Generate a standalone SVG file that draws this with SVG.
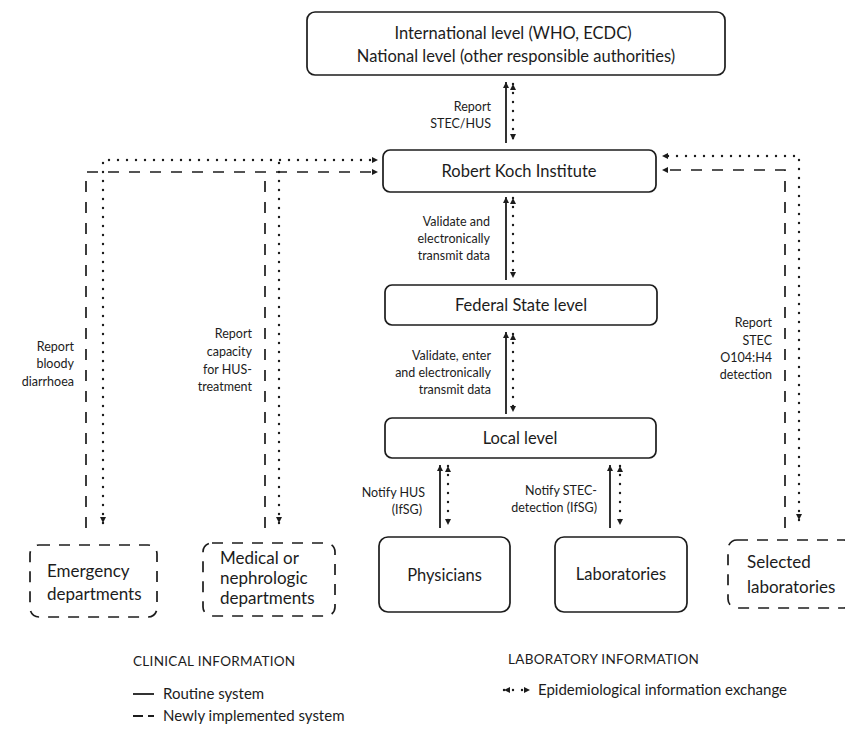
<svg xmlns="http://www.w3.org/2000/svg" width="845" height="733" viewBox="0 0 845 733">
<style>
  text { font-family: Lato, "Liberation Sans", sans-serif; fill: #1c1c1c; }
  .box { fill: none; stroke: #1c1c1c; stroke-width: 1.7; }
  .dbox { fill: none; stroke: #1c1c1c; stroke-width: 1.7; stroke-dasharray: 11 9; }
  .bt { font-size: 17px; }
  .ct { font-size: 16.5px; text-anchor: middle; }
  .lb { font-size: 12.5px; text-anchor: end; }
  .lg { font-size: 15px; }
  .hd { font-size: 13.5px; letter-spacing: 0.3px; }
  .solid { fill: none; stroke: #1c1c1c; stroke-width: 1.8; }
  .dash { fill: none; stroke: #1c1c1c; stroke-width: 1.7; stroke-dasharray: 11 10; }
  .dot { fill: none; stroke: #1c1c1c; stroke-width: 2.4; stroke-linecap: round; stroke-dasharray: 0 9; }
</style>
<defs>
  <marker id="ah" viewBox="0 0 10 10" refX="10" refY="5" markerUnits="userSpaceOnUse" markerWidth="7" markerHeight="6" orient="auto-start-reverse">
    <path d="M0,0 L10,5 L0,10 z" fill="#1c1c1c"/>
  </marker>
</defs>
<rect width="845" height="733" fill="#ffffff"/>

<g id="international">
  <rect class="box" x="307" y="12" width="418" height="63" rx="8"/>
  <text class="ct" x="513" y="39">International level (WHO, ECDC)</text>
  <text class="ct" x="516" y="62">National level (other responsible authorities)</text>
</g>
<g id="rki">
  <rect class="box" x="383" y="150" width="273" height="42" rx="7"/>
  <text class="ct" x="519" y="177">Robert Koch Institute</text>
</g>
<g id="federal">
  <rect class="box" x="385" y="285" width="272" height="40" rx="7"/>
  <text class="ct" x="521" y="311">Federal State level</text>
</g>
<g id="local">
  <rect class="box" x="385" y="418" width="271" height="40" rx="7"/>
  <text class="ct" x="520" y="444">Local level</text>
</g>
<g id="emergency">
  <rect class="dbox" x="30" y="545" width="127" height="72" rx="9"/>
  <text class="bt" x="47" y="577">Emergency</text>
  <text class="bt" x="47" y="600">departments</text>
</g>
<g id="medical">
  <rect class="dbox" x="203" y="543" width="132" height="73" rx="9"/>
  <text class="bt" x="220" y="564">Medical or</text>
  <text class="bt" x="220" y="584">nephrologic</text>
  <text class="bt" x="220" y="604">departments</text>
</g>
<g id="physicians">
  <rect class="box" x="379" y="537" width="131" height="75" rx="9"/>
  <text class="ct" x="444.5" y="581">Physicians</text>
</g>
<g id="laboratories">
  <rect class="box" x="555" y="537" width="132" height="75" rx="9"/>
  <text class="ct" x="621" y="580">Laboratories</text>
</g>
<g id="selected">
  <rect class="dbox" x="728" y="540" width="125" height="68" rx="9"/>
  <text class="bt" x="747" y="568">Selected</text>
  <text class="bt" x="747" y="593">laboratories</text>
</g>

<g id="connectors">
  <path class="solid" d="M506,143 V82" marker-end="url(#ah)"/>
  <path class="dot" d="M513,84 V140" marker-start="url(#ah)" marker-end="url(#ah)"/>
  <path class="solid" d="M506,280 V197" marker-end="url(#ah)"/>
  <path class="dot" d="M513,198 V278" marker-start="url(#ah)" marker-end="url(#ah)"/>
  <path class="solid" d="M506,414 V332" marker-end="url(#ah)"/>
  <path class="dot" d="M513,334 V412" marker-start="url(#ah)" marker-end="url(#ah)"/>
  <path class="solid" d="M440,528 V465" marker-end="url(#ah)"/>
  <path class="dot" d="M448,466 V525" marker-start="url(#ah)" marker-end="url(#ah)"/>
  <path class="solid" d="M610,528 V465" marker-end="url(#ah)"/>
  <path class="dot" d="M620,466 V525" marker-start="url(#ah)" marker-end="url(#ah)"/>

  <path class="dash" d="M86,528 V172 H378" marker-end="url(#ah)"/>
  <path class="dot" d="M103,523 V160 H378" marker-start="url(#ah)" marker-end="url(#ah)"/>
  <path class="dash" d="M265,528 V172"/>
  <path class="dot" d="M279,523 V160" marker-start="url(#ah)"/>
  <path class="dash" d="M785,528 V170 H662" marker-end="url(#ah)"/>
  <path class="dot" d="M799,520 V156 H662" marker-start="url(#ah)" marker-end="url(#ah)"/>
</g>

<g id="labels">
  <text class="lb" x="491" y="111">Report</text>
  <text class="lb" x="491" y="128">STEC/HUS</text>
  <text class="lb" x="490" y="226">Validate and</text>
  <text class="lb" x="490" y="243">electronically</text>
  <text class="lb" x="490" y="260">transmit data</text>
  <text class="lb" x="491" y="360">Validate, enter</text>
  <text class="lb" x="491" y="377">and electronically</text>
  <text class="lb" x="491" y="394">transmit data</text>
  <text class="lb" x="425" y="497">Notify HUS</text>
  <text class="lb" x="422" y="514">(IfSG)</text>
  <text class="lb" x="597" y="495">Notify STEC-</text>
  <text class="lb" x="597" y="512">detection (IfSG)</text>
  <text class="lb" x="74" y="351">Report</text>
  <text class="lb" x="74" y="368">bloody</text>
  <text class="lb" x="74" y="386">diarrhoea</text>
  <text class="lb" x="252" y="338">Report</text>
  <text class="lb" x="252" y="356">capacity</text>
  <text class="lb" x="252" y="374">for HUS-</text>
  <text class="lb" x="252" y="391">treatment</text>
  <text class="lb" x="772" y="327">Report</text>
  <text class="lb" x="772" y="345">STEC</text>
  <text class="lb" x="772" y="362">O104:H4</text>
  <text class="lb" x="772" y="379">detection</text>
</g>

<g id="legend">
  <text class="hd" x="133" y="666">CLINICAL INFORMATION</text>
  <text class="hd" x="508" y="664">LABORATORY INFORMATION</text>
  <path class="solid" d="M133,694 H154"/>
  <text class="lg" x="163" y="699">Routine system</text>
  <path class="solid" d="M133,716 H143 M148,716 H154"/>
  <text class="lg" x="163" y="721">Newly implemented system</text>
  <path class="dot" d="M504,690 H530" marker-start="url(#ah)" marker-end="url(#ah)"/>
  <text class="lg" x="538" y="695">Epidemiological information exchange</text>
</g>
</svg>
